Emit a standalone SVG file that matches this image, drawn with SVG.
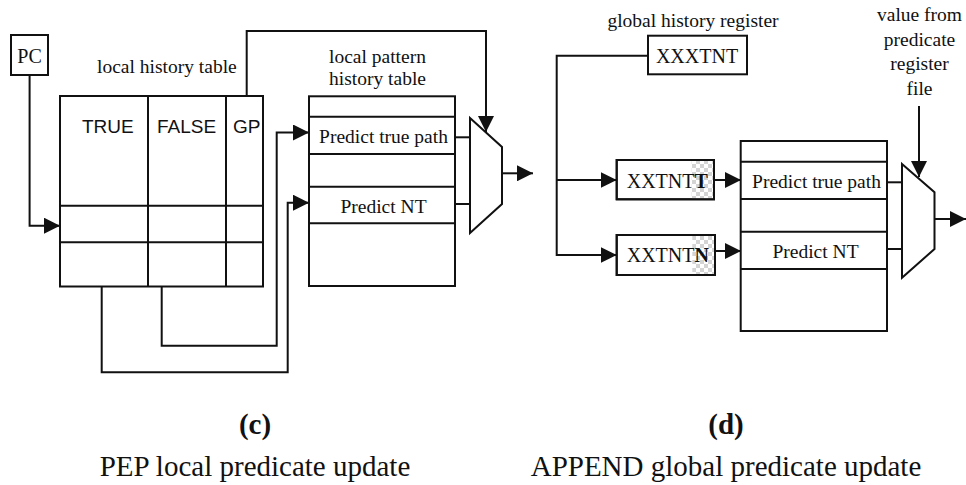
<svg xmlns="http://www.w3.org/2000/svg" width="966" height="485" viewBox="0 0 966 485">
  <style>
    .ln { stroke: #111; stroke-width: 2; fill: none; }
    .box { stroke: #111; stroke-width: 2; fill: #fff; }
    .ser { font-family: "Liberation Serif", "Times New Roman", serif; fill: #111; }
    .sans { font-family: "Liberation Sans", Arial, sans-serif; fill: #111; font-size: 19px; }
    .lbl { font-size: 19.5px; }
    .bx { font-size: 20px; }
    .cap { font-size: 29px; }
    .mid { text-anchor: middle; }
  </style>
  <defs>
    <marker id="arrow" markerUnits="userSpaceOnUse" markerWidth="16" markerHeight="16" refX="16" refY="8" orient="auto">
      <path d="M0,0 L16,8 L0,16 z" fill="#111"/>
    </marker>
    <pattern id="checker" patternUnits="userSpaceOnUse" width="8" height="8">
      <rect width="8" height="8" fill="#fff"/>
      <rect width="4" height="4" fill="#d4d4d4"/>
      <rect x="4" y="4" width="4" height="4" fill="#d4d4d4"/>
    </pattern>
  </defs>

  <!-- ===== (c) PEP local predicate update ===== -->
  <g id="pc">
    <rect class="box" x="11" y="35" width="37" height="40"/>
    <text class="ser bx mid" x="29.5" y="63">PC</text>
  </g>

  <g id="local-history-table">
    <text class="ser lbl" x="97" y="73">local history table</text>
    <rect class="box" x="60" y="96" width="203" height="190.5"/>
    <line class="ln" x1="148" y1="96" x2="148" y2="286.5"/>
    <line class="ln" x1="226" y1="96" x2="226" y2="286.5"/>
    <line class="ln" x1="59" y1="205.7" x2="263" y2="205.7"/>
    <line class="ln" x1="59" y1="242.3" x2="263" y2="242.3"/>
    <text class="sans" x="82" y="133">TRUE</text>
    <text class="sans" x="157" y="133">FALSE</text>
    <text class="sans" x="233" y="133">GP</text>
  </g>

  <g id="local-pattern-history-table">
    <text class="ser lbl mid" x="377.5" y="63">local pattern</text>
    <text class="ser lbl mid" x="377.5" y="85">history table</text>
    <rect class="box" x="309" y="96.3" width="146" height="189.7"/>
    <line class="ln" x1="309" y1="116.7" x2="455" y2="116.7"/>
    <line class="ln" x1="309" y1="154" x2="455" y2="154"/>
    <line class="ln" x1="309" y1="186.7" x2="455" y2="186.7"/>
    <line class="ln" x1="309" y1="223.3" x2="455" y2="223.3"/>
    <text class="ser lbl mid" x="383.5" y="143">Predict true path</text>
    <text class="ser lbl mid" x="383.5" y="213.3">Predict NT</text>
  </g>

  <g id="mux-c">
    <path class="ln" d="M470,118 L502,147 L502,204 L470,233 Z" fill="#fff"/>
  </g>

  <!-- ===== (d) APPEND global predicate update ===== -->
  <g id="global-history-register">
    <text class="ser lbl mid" x="693" y="27">global history register</text>
    <rect class="box" x="648" y="35.7" width="99" height="38.6"/>
    <text class="ser bx mid" x="697" y="63.3">XXXTNT</text>
  </g>

  <g id="history-taken">
    <rect class="box" x="616.7" y="160" width="97.3" height="39.3"/>
    <rect x="691.7" y="161" width="21.3" height="37.3" fill="url(#checker)"/>
    <rect class="ln" x="616.7" y="160" width="97.3" height="39.3"/>
    <text class="ser bx" x="626.7" y="188.3">XXTNT<tspan font-weight="bold">T</tspan></text>
  </g>

  <g id="history-not-taken">
    <rect class="box" x="616.7" y="235" width="98.3" height="40"/>
    <rect x="692.3" y="236" width="21.7" height="38" fill="url(#checker)"/>
    <rect class="ln" x="616.7" y="235" width="98.3" height="40"/>
    <text class="ser bx" x="626.7" y="261.7">XXTNT<tspan font-weight="bold">N</tspan></text>
  </g>

  <g id="global-pattern-table">
    <rect class="box" x="740.7" y="141" width="146.3" height="190"/>
    <line class="ln" x1="740.7" y1="161.7" x2="887" y2="161.7"/>
    <line class="ln" x1="740.7" y1="199" x2="887" y2="199"/>
    <line class="ln" x1="740.7" y1="231.7" x2="887" y2="231.7"/>
    <line class="ln" x1="740.7" y1="269" x2="887" y2="269"/>
    <text class="ser lbl mid" x="816.5" y="188.3">Predict true path</text>
    <text class="ser lbl mid" x="815.5" y="258.3">Predict NT</text>
  </g>

  <g id="predicate-value">
    <text class="ser lbl mid" x="919.5" y="20.7">value from</text>
    <text class="ser lbl mid" x="919.5" y="45.5">predicate</text>
    <text class="ser lbl mid" x="919.5" y="70">register</text>
    <text class="ser lbl mid" x="919.5" y="94.5">file</text>
  </g>

  <g id="mux-d">
    <path class="ln" d="M902,164 L934.5,192.3 L934.5,249 L902,277.7 Z" fill="#fff"/>
  </g>

  <!-- ===== connectors ===== -->
  <g id="connectors">
    <!-- (c) -->
    <polyline class="ln" points="29.6,75 29.6,225.7 60,225.7" marker-end="url(#arrow)"/>
    <polyline class="ln" points="246.7,96 246.7,31 486,31 486,132" marker-end="url(#arrow)"/>
    <polyline class="ln" points="161.7,286.5 161.7,345.7 276.7,345.7 276.7,132.5 309,132.5" marker-end="url(#arrow)"/>
    <polyline class="ln" points="101.7,286.5 101.7,372.3 287.7,372.3 287.7,202.7 309,202.7" marker-end="url(#arrow)"/>
    <line class="ln" x1="455" y1="137.3" x2="470" y2="137.3"/>
    <line class="ln" x1="455" y1="204" x2="470" y2="204"/>
    <line class="ln" x1="502" y1="173.3" x2="533" y2="173.3" marker-end="url(#arrow)"/>

    <!-- (d) -->
    <polyline class="ln" points="648,55.7 556.7,55.7 556.7,255 616.7,255" marker-end="url(#arrow)"/>
    <line class="ln" x1="556.7" y1="180" x2="616.7" y2="180" marker-end="url(#arrow)"/>
    <line class="ln" x1="714" y1="180" x2="741" y2="180" marker-end="url(#arrow)"/>
    <line class="ln" x1="715" y1="251" x2="741" y2="251" marker-end="url(#arrow)"/>
    <line class="ln" x1="887" y1="182.3" x2="902" y2="182.3"/>
    <line class="ln" x1="887" y1="249" x2="902" y2="249"/>
    <line class="ln" x1="934.5" y1="219" x2="966" y2="219" marker-end="url(#arrow)"/>
    <line class="ln" x1="919" y1="106" x2="919" y2="177" marker-end="url(#arrow)"/>
  </g>

  <!-- ===== captions ===== -->
  <g id="captions">
    <text class="ser cap mid" x="255" y="434" font-weight="bold">(c)</text>
    <text class="ser cap mid" x="255" y="476">PEP local predicate update</text>
    <text class="ser cap mid" x="726" y="434" font-weight="bold">(d)</text>
    <text class="ser cap mid" x="726" y="476">APPEND global predicate update</text>
  </g>
</svg>
